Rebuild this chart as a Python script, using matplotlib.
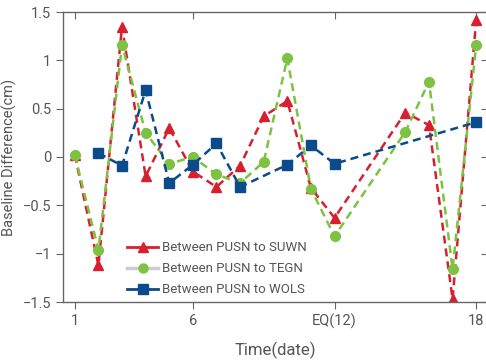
import matplotlib.pyplot as plt
from matplotlib.lines import Line2D

# baseline differences per day (cm)
days_suwn = [1, 2, 3, 4, 5, 6, 7, 8, 9, 10, 11, 12, 15, 16, 17, 18]
suwn = [0.02, -1.12, 1.35, -0.20, 0.30, -0.15, -0.31, -0.09, 0.42, 0.58,
        -0.32, -0.63, 0.46, 0.33, -1.47, 1.42]

days_tegn = [1, 2, 3, 4, 5, 6, 7, 8, 9, 10, 11, 12, 15, 16, 17, 18]
tegn = [0.02, -0.96, 1.16, 0.25, -0.07, 0.0, -0.18, -0.27, -0.05, 1.02,
        -0.33, -0.82, 0.26, 0.78, -1.16, 1.16]

days_wols = [2, 3, 4, 5, 6, 7, 8, 10, 11, 12, 18]
wols = [0.04, -0.09, 0.69, -0.27, -0.08, 0.14, -0.31, -0.08, 0.12, -0.07, 0.36]

xticks = [1, 6, 12, 18]
xticklabels = ['1', '6', 'EQ(12)', '18']
yticks = [-1.5, -1, -0.5, 0, 0.5, 1, 1.5]
yticklabels = ['\u22121.5', '\u22121', '\u22120.5', '0', '0.5', '1', '1.5']

red = '#d7202f'
green = '#7dc242'
blue = '#0b4a8b'
gray = '#555555'

plt.rcParams['font.family'] = ['Roboto', 'DejaVu Sans']

fig = plt.figure(figsize=(4.86, 3.62), dpi=100)
ax = fig.add_axes([63 / 486, 60 / 362, 425 / 486, 290 / 362])

ax.plot(days_suwn, suwn, color=red, lw=1.8, marker='^', ms=6.5, ls=(0, (3.2, 2)))
ax.plot(days_tegn, tegn, color=green, lw=1.8, marker='o', ms=7, ls=(0, (3.2, 2)))
ax.plot(days_wols, wols, color=blue, lw=1.8, marker='s', ms=6.5, ls=(0, (3.2, 2)))

ax.set_xlim(0.5, 18.5)
ax.set_ylim(-1.5, 1.5)
ax.set_xticks(xticks)
ax.set_xticklabels(xticklabels)
ax.set_yticks(yticks)
ax.set_yticklabels(yticklabels)

for s in ax.spines.values():
    s.set_color('#666666')
    s.set_linewidth(1.0)
ax.tick_params(direction='out', length=5, colors='#666666', labelcolor=gray,
               labelsize=10.5)

# inner ticks on top and right
ax2 = ax.secondary_xaxis('top')
ax2.set_xticks(xticks)
ax2.tick_params(direction='in', length=5, colors='#666666', labeltop=False)
ax2.spines['top'].set_visible(False)
ax3 = ax.secondary_yaxis('right')
ax3.set_yticks(yticks)
ax3.tick_params(direction='in', length=5, colors='#666666', labelright=False)
ax3.spines['right'].set_visible(False)

ax.set_xlabel('Time(date)', color=gray, fontsize=12, labelpad=9)
ax.set_ylabel('Baseline Difference(cm)', color=gray, fontsize=10.5)
ax.yaxis.set_label_coords(-46 / 425, 0.5)

handles = [
    Line2D([], [], color=red, lw=2, marker='^', ms=6.5),
    Line2D([], [], color='#cccccc', lw=2.5, marker='o', ms=6.5,
           markerfacecolor=green, markeredgecolor=green),
    Line2D([], [], color=blue, lw=2, marker='s', ms=6.5),
]
labels = ['Between PUSN to SUWN', 'Between PUSN to TEGN', 'Between PUSN to WOLS']
leg = ax.legend(handles, labels, loc='lower left', bbox_to_anchor=(0.13, -0.012),
                frameon=False, fontsize=9.5, handlelength=2.35, handletextpad=0.3,
                labelspacing=0.6, borderaxespad=0.3)
for t in leg.get_texts():
    t.set_color(gray)

fig.savefig('out.png', dpi=100)
